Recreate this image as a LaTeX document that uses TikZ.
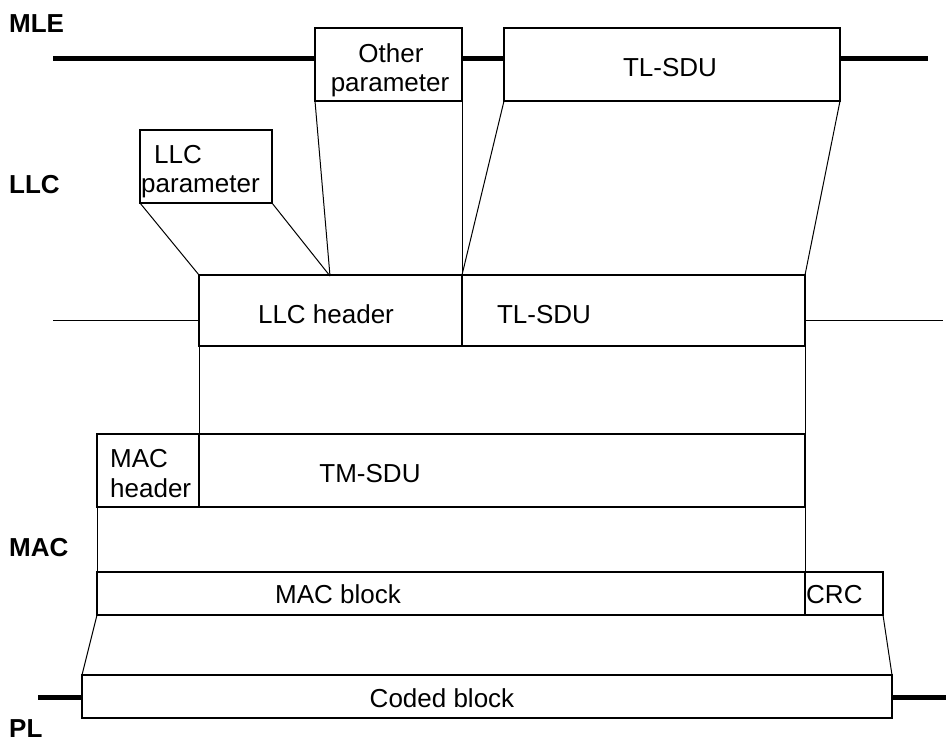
\documentclass[tikz,border=0pt]{standalone}
\usepackage{fontspec}
\setmainfont{Liberation Sans}
\begin{document}
\begin{tikzpicture}[x=1pt,y=-1pt,
  box/.style={draw, line width=2.5pt, inner sep=0pt, outer sep=0pt, anchor=north west},
  txt/.style={inner sep=0pt, anchor=base, font=\fontsize{26}{29}\selectfont},
  txtl/.style={txt, anchor=base west},
  lay/.style={txtl, font=\fontsize{26}{29}\selectfont\bfseries},
  link/.style={line width=1pt},
  thickline/.style={line width=5pt},
  thinline/.style={line width=1pt}]
\useasboundingbox (0,0) rectangle (946,745);
% boxes
\node[box, minimum width=147pt, minimum height=73pt] (othpar) at (315,28) {};
\node[box, minimum width=336pt, minimum height=73pt] (tlsduA) at (504,28) {};
\node[box, minimum width=132pt, minimum height=73pt] (llcpar) at (140,130) {};
\node[box, minimum width=263pt, minimum height=71pt] (llchdr) at (199,275) {};
\node[box, minimum width=343pt, minimum height=71pt] (tlsduB) at (462,275) {};
\node[box, minimum width=102pt, minimum height=73pt] (machdr) at (97,434) {};
\node[box, minimum width=606pt, minimum height=73pt] (tmsdu) at (199,434) {};
\node[box, minimum width=708pt, minimum height=43pt] (macblk) at (97,572) {};
\node[box, minimum width=78pt, minimum height=43pt] (crc) at (805,572) {};
\node[box, minimum width=810pt, minimum height=43pt] (coded) at (82,675) {};
% layer lines
\coordinate (mleL) at (53,58);
\coordinate (mleR) at (928,58);
\coordinate (llcL) at (53,320);
\coordinate (llcR) at (943,320);
\coordinate (plL) at (38,697);
\coordinate (plR) at (946,697);
\draw[thickline] (mleL) -- (mleL -| othpar.west);
\draw[thickline] (mleL -| othpar.east) -- (mleL -| tlsduA.west);
\draw[thickline] (mleL -| tlsduA.east) -- (mleR);
\draw[thinline] (llcL) -- (llcL -| llchdr.west);
\draw[thinline] (llcR -| tlsduB.east) -- (llcR);
\draw[thickline] (plL) -- (plL -| coded.west);
\draw[thickline] (plR -| coded.east) -- (plR);
% connectors
\coordinate (mid) at (330,276);
\draw[link] (llcpar.south west) -- (llchdr.north west);
\draw[link] (llcpar.south east) -- (mid);
\draw[link] (othpar.south west) -- (mid);
\draw[link] (othpar.south east) -- (llchdr.north east);
\draw[link] (tlsduA.south west) -- (tlsduB.north west);
\draw[link] (tlsduA.south east) -- (tlsduB.north east);
\draw[link] (llchdr.south west) -- (tmsdu.north west);
\draw[link] (tlsduB.south east) -- (tmsdu.north east);
\draw[link] (machdr.south west) -- (macblk.north west);
\draw[link] (tmsdu.south east) -- (macblk.north east);
\draw[link] (macblk.south west) -- (coded.north west);
\draw[link] (crc.south east) -- (coded.north east);
% texts
\node[txt] (t1) at (391,62) {Other};
\node[txt] (t2) at (390,91) {parameter};
\node[txt] (t3) at (670,76) {TL-SDU};
\node[txtl] (t4) at (154,163) {LLC};
\node[txtl] (t5) at (141,192) {parameter};
\node[txt] (t6) at (326,323) {LLC header};
\node[txt] (t7) at (544,323) {TL-SDU};
\node[txtl] (t8) at (110,467) {MAC};
\node[txtl] (t9) at (110,497) {header};
\node[txt] (t10) at (370,482) {TM-SDU};
\node[txt] (t11) at (338,603) {MAC block};
\node[txtl] (t12) at (806,603) {CRC};
\node[txt] (t13) at (442,707) {Coded block};
% layer labels
\node[lay] (mle) at (9,32) {MLE};
\node[lay] (llc) at (9,193) {LLC};
\node[lay] (mac) at (9,556) {MAC};
\node[lay] (pl) at (9,737) {PL};
\end{tikzpicture}
\end{document}
